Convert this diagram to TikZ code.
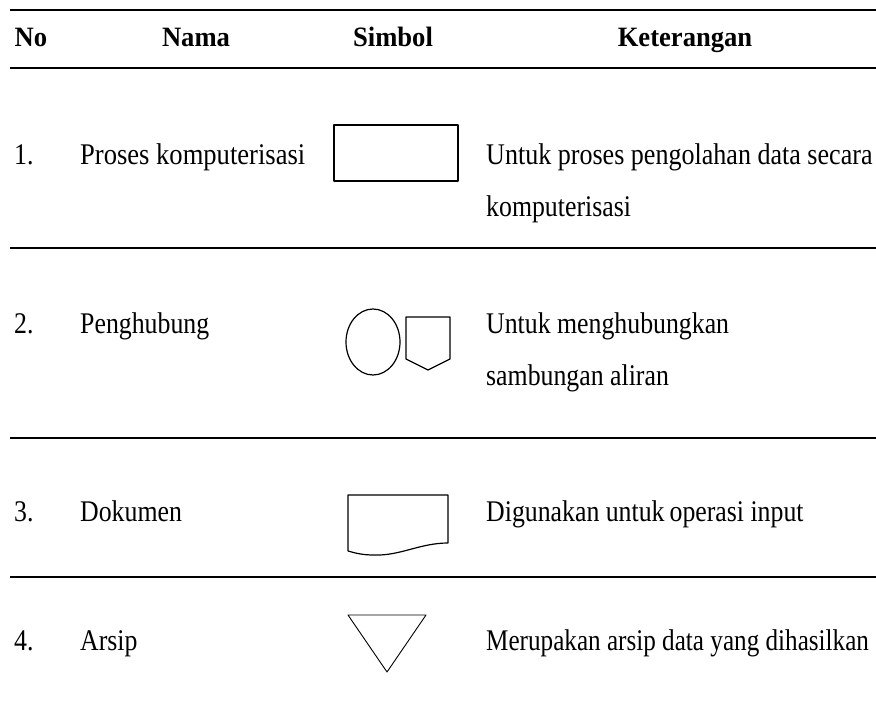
\documentclass[tikz,border=0pt]{standalone}
\usepackage{fontspec}
\setmainfont{Liberation Serif}[FakeStretch=0.86]
\newfontfamily\headfont{Liberation Serif}[FakeStretch=0.95]
\usetikzlibrary{positioning}
\tikzset{
  % header text
  HD/.style={anchor=base,inner sep=0pt,font=\headfont\fontsize{28}{34}\selectfont\bfseries},
  % body text
  TX/.style={anchor=base west,inner sep=0pt,font=\fontsize{30}{36}\selectfont},
  % table rule
  RL/.style={line width=2.6pt,line cap=butt},
  % symbol outline
  SY/.style={line width=1.2pt,line join=round},
}
\begin{document}
\begin{tikzpicture}[x=1pt,y=-1pt]
  \useasboundingbox (0,0) rectangle (876,715);
  % rules
  \foreach \y in {10,68,248,438,577}
    \draw[RL] (10,\y) -- (876,\y);
  % header
  \node[HD] at (31,46)  (hno)  {No};
  \node[HD] at (196,46) (hnm)  {Nama};
  \node[HD] at (393,46) (hsym) {Simbol};
  \node[HD] at (685,46) (hket) {Keterangan};
  % row 1
  \node[TX] at (14,164)  (n1) {1.};
  \node[TX] at (80,164)  (m1) {\scalebox{1.03}[1]{Proses komputerisasi}};
  \node[TX] at (486,164) (k1) {\scalebox{1.01}[1]{Untuk proses pengolahan data secara}};
  \node[TX] at (486,216) (k1b) {komputerisasi};
  \draw[SY] (334,125) rectangle (458,181);
  % row 2
  \node[TX] at (14,333)  (n2) {2.};
  \node[TX] at (80,333)  (m2) {Penghubung};
  \node[TX] at (486,333) (k2) {Untuk menghubungkan};
  \node[TX] at (486,385) (k2b) {sambungan aliran};
  \draw[SY] (373,342) ellipse [x radius=27,y radius=33];
  \draw[SY] (406,317) -- (450,317) -- (450,359) -- (428,370) -- (406,359) -- cycle;
  % row 3
  \node[TX] at (14,521)  (n3) {3.};
  \node[TX] at (80,521)  (m3) {Dokumen};
  \node[TX] at (486,521) (k3) {Digunakan untuk\,operasi input};
  \draw[SY] (348,551) -- (348,495) -- (448,495) -- (448,543)
    .. controls (420,543) and (400,556) .. (374,555)
    .. controls (362,555) and (355,553) .. (348,551);
  % row 4
  \node[TX] at (14,650)  (n4) {4.};
  \node[TX] at (80,650)  (m4) {Arsip};
  \node[TX] at (486,650) (k4) {\scalebox{0.975}[1]{Merupakan arsip data yang dihasilkan}};
  \draw[line width=0.9pt,line join=round] (348,615) -- (426,615) -- (387,672) -- cycle;
\end{tikzpicture}
\end{document}
